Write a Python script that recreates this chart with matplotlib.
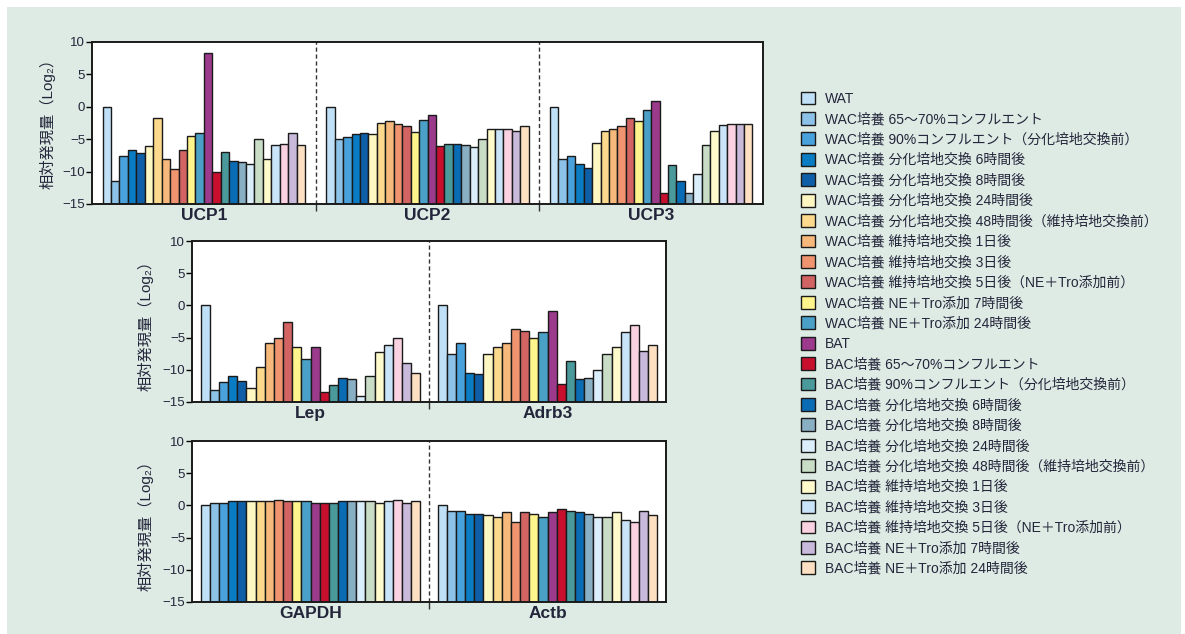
import matplotlib
matplotlib.use("Agg")
import matplotlib.pyplot as plt
from matplotlib.patches import Patch, Rectangle
import numpy as np

plt.rcParams['font.family'] = ['Liberation Sans', 'Noto Sans CJK JP', 'DejaVu Sans']

samples = [
    "WAT",
    "WAC培養 65～70%コンフルエント",
    "WAC培養 90%コンフルエント（分化培地交換前）",
    "WAC培養 分化培地交換 6時間後",
    "WAC培養 分化培地交換 8時間後",
    "WAC培養 分化培地交換 24時間後",
    "WAC培養 分化培地交換 48時間後（維持培地交換前）",
    "WAC培養 維持培地交換 1日後",
    "WAC培養 維持培地交換 3日後",
    "WAC培養 維持培地交換 5日後（NE＋Tro添加前）",
    "WAC培養 NE＋Tro添加 7時間後",
    "WAC培養 NE＋Tro添加 24時間後",
    "BAT",
    "BAC培養 65～70%コンフルエント",
    "BAC培養 90%コンフルエント（分化培地交換前）",
    "BAC培養 分化培地交換 6時間後",
    "BAC培養 分化培地交換 8時間後",
    "BAC培養 分化培地交換 24時間後",
    "BAC培養 分化培地交換 48時間後（維持培地交換前）",
    "BAC培養 維持培地交換 1日後",
    "BAC培養 維持培地交換 3日後",
    "BAC培養 維持培地交換 5日後（NE＋Tro添加前）",
    "BAC培養 NE＋Tro添加 7時間後",
    "BAC培養 NE＋Tro添加 24時間後",
]

colors = [
    "#bfe0f6", "#8cc2e8", "#4aa2dc", "#0a7cc3", "#0f5fa8", "#fff7c2",
    "#fcd98c", "#f6b97b", "#f09470", "#d26464", "#fff58c", "#4aa0c6",
    "#9c3a8c", "#c8102e", "#4a9a9c", "#0b6cb6", "#88afc4", "#dbeefb",
    "#c9ddc6", "#fffacb", "#c9e4f8", "#fad1e1", "#c9b9db", "#fde0c2",
]

ucp1 = [0, -11.4, -7.6, -6.6, -7.2, -6.0, -1.8, -8.0, -9.6, -6.6, -4.5, -4.0,
        8.3, -10.0, -6.9, -8.3, -8.55, -8.9, -4.9, -8.1, -5.9, -5.7, -4.0, -5.9]
ucp2 = [0, -4.9, -4.6, -4.2, -4.0, -4.2, -2.5, -2.2, -2.7, -3.0, -3.9, -2.0,
        -1.3, -6.1, -5.7, -5.7, -5.9, -6.2, -4.9, -3.5, -3.5, -3.5, -3.7, -3.0]
ucp3 = [0, -8.0, -7.6, -8.8, -9.5, -5.6, -3.7, -3.4, -3.0, -1.8, -2.2, -0.5,
        0.9, -13.35, -9.0, -11.4, -13.35, -10.3, -5.9, -3.7, -2.8, -2.6, -2.7, -2.6]
lep = [0, -13.1, -11.9, -10.9, -11.7, -12.9, -9.5, -5.9, -5.1, -2.5, -6.5, -8.3,
       -6.4, -13.4, -12.4, -11.2, -11.4, -14.0, -10.9, -7.3, -6.1, -5.1, -9.0, -10.5]
adrb3 = [0, -7.6, -5.9, -10.5, -10.7, -7.6, -6.5, -5.9, -3.7, -3.9, -5.1, -4.2,
         -0.8, -12.2, -8.6, -11.4, -11.2, -10.0, -7.6, -6.5, -4.2, -3.0, -7.1, -6.1]
gapdh = [0, 0.4, 0.4, 0.7, 0.7, 0.7, 0.7, 0.7, 0.9, 0.7, 0.7, 0.7,
         0.4, 0.4, 0.4, 0.7, 0.7, 0.7, 0.7, 0.4, 0.7, 0.9, 0.4, 0.7]
actb = [0, -0.8, -0.8, -1.3, -1.3, -1.5, -1.8, -1.0, -2.5, -1.0, -1.3, -1.8,
        -1.0, -0.6, -0.8, -1.0, -1.3, -1.8, -1.8, -1.0, -2.2, -2.5, -0.8, -1.5]

rows = [
    (["UCP1", "UCP2", "UCP3"], [ucp1, ucp2, ucp3]),
    (["Lep", "Adrb3"], [lep, adrb3]),
    (["GAPDH", "Actb"], [gapdh, actb]),
]

yticks = [10, 5, 0, -5, -10, -15]
ytick_labels = ["10", "5", "0", "\u22125", "\u221210", "\u221215"]

bg = "#deeae4"
txt = "#23263a"
W, H = 1185, 634

fig = plt.figure(figsize=(W / 100, H / 100), dpi=100)
fig.patch.set_facecolor("white")
fig.patches.append(Rectangle((7 / W, 0), (1181 - 7) / W, 1 - 7 / H,
                             transform=fig.transFigure, facecolor=bg,
                             edgecolor="none", zorder=-10))

# axes boxes in pixels: left, right, top, bottom
boxes = [(92, 763, 42, 204), (192, 666, 241, 402), (192, 666, 441, 602)]
bar_fracs = [0.905, 0.928, 0.928]
# y label anchor (pixel x, axes-fraction y)
label_pos = [(56, 0.52), (154, 0.5), (154, 0.5)]

n = len(samples)
for (genes, data), (x0, x1, y0, y1), frac, (lx, ly) in zip(rows, boxes, bar_fracs, label_pos):
    ax = fig.add_axes([x0 / W, 1 - y1 / H, (x1 - x0) / W, (y1 - y0) / H])
    ax.set_facecolor("white")
    w = frac / n
    for g, vals in enumerate(data):
        xs = g - frac / 2 + w * (np.arange(n) + 0.5)
        v = np.array(vals)
        ax.bar(xs, v + 15, bottom=-15, width=w, color=colors,
               edgecolor="#1a1a1a", linewidth=1.0, zorder=2)
    for b in range(1, len(genes)):
        ax.axvline(b - 0.5, color="#333333", linestyle=(0, (3, 2)),
                   linewidth=1.0, zorder=1)
    ax.set_xlim(-0.5, len(genes) - 0.5)
    ax.set_ylim(-15, 10)
    ax.set_yticks(yticks)
    ax.set_yticklabels(ytick_labels)
    ax.set_xticks([b - 0.5 for b in range(1, len(genes))])
    ax.set_xticklabels([])
    ax.set_xticks(range(len(genes)), minor=True)
    ax.set_xticklabels(genes, minor=True, fontsize=12.5, fontweight="bold",
                       color=txt)
    ax.tick_params(axis="x", which="major", length=5, width=1.0,
                   direction="out", color="#333333")
    ax.tick_params(axis="x", which="minor", length=0, pad=3)
    ax.tick_params(axis="y", length=4, width=1.0, labelsize=9.5,
                   labelcolor=txt, pad=1)
    for s in ax.spines.values():
        s.set_linewidth(1.4)
        s.set_color("#1a1a1a")
    ax.set_ylabel("相対発現量（Log₂）", fontsize=11, color=txt)
    ax.yaxis.set_label_coords((lx - x0) / (x1 - x0), ly)

handles = [Patch(facecolor=c, edgecolor="#1a1a1a", linewidth=1.0) for c in colors]
fig.legend(handles, samples, loc="upper left",
           bbox_to_anchor=(795 / W, 1 - 86 / H), frameon=False,
           fontsize=10, handlelength=1.05, handleheight=1.05,
           handletextpad=0.7, labelspacing=0.45, labelcolor=txt,
           borderaxespad=0)

fig.savefig("out.png", dpi=100, facecolor=fig.get_facecolor())
